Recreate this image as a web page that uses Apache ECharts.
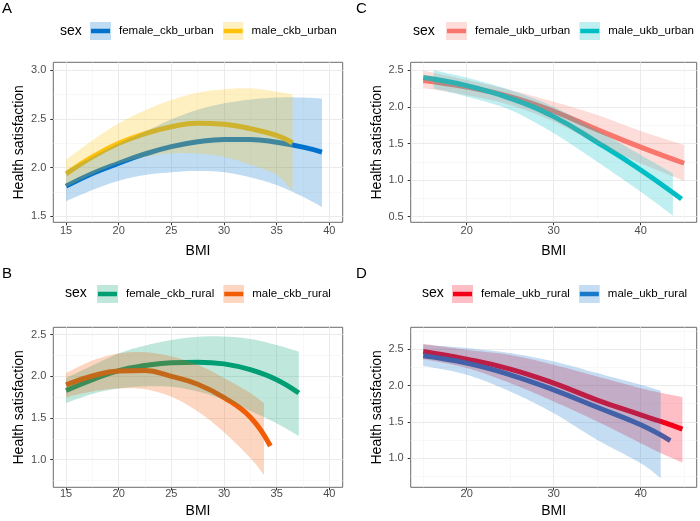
<!DOCTYPE html>
<html><head><meta charset="utf-8">
<script src="https://cdn.jsdelivr.net/npm/echarts@6/dist/echarts.min.js"></script>
<style>html,body{margin:0;padding:0;background:#fff}#c{width:700px;height:521px}</style>
</head><body><div id="c"></div>
<script>
// ---------------- DATA ----------------
// Panel A : CKB urban
const aFemaleX   = [15, 17.5, 20, 22.5, 25, 27.5, 30, 32.5, 35, 37.5, 39.3];
const aFemaleFit = [1.81, 1.94, 2.045, 2.14, 2.215, 2.265, 2.29, 2.29, 2.26, 2.21, 2.16];
const aFemaleLo  = [1.655, 1.77, 1.865, 1.925, 1.952, 1.966, 1.952, 1.90, 1.82, 1.70, 1.596];
const aFemaleHi  = [1.97, 2.11, 2.25, 2.37, 2.495, 2.595, 2.66, 2.70, 2.72, 2.72, 2.71];
const aMaleX     = [15, 17.5, 20, 22.5, 25, 27.5, 30, 32.5, 35, 36.5];
const aMaleFit   = [1.935, 2.11, 2.25, 2.35, 2.42, 2.455, 2.445, 2.40, 2.33, 2.255];
const aMaleLo    = [1.80, 1.93, 2.04, 2.11, 2.147, 2.144, 2.11, 2.03, 1.925, 1.76];
const aMaleHi    = [2.08, 2.28, 2.455, 2.59, 2.695, 2.77, 2.805, 2.815, 2.78, 2.753];

// Panel B : CKB rural
const bFemaleX   = [15, 17.5, 20, 22.5, 25, 27.5, 30, 32.5, 35, 37.1];
const bFemaleFit = [1.83, 1.96, 2.07, 2.13, 2.165, 2.17, 2.15, 2.08, 1.96, 1.80];
const bFemaleLo  = [1.68, 1.79, 1.855, 1.88, 1.875, 1.82, 1.72, 1.585, 1.436, 1.284];
const bFemaleHi  = [1.98, 2.13, 2.275, 2.37, 2.436, 2.475, 2.478, 2.45, 2.376, 2.296];
const bMaleLineX = [15, 17.5, 20, 22.5, 25, 27.5, 30, 32.5, 34.4];
const bMaleFit   = [1.90, 2.005, 2.065, 2.07, 2.00, 1.905, 1.745, 1.51, 1.165];
const bMaleRibX  = [15, 17.5, 20, 22.5, 25, 27.5, 30, 32.5, 33.8];
const bMaleLo    = [1.75, 1.82, 1.855, 1.845, 1.755, 1.58, 1.33, 1.02, 0.816];
const bMaleHi    = [2.04, 2.19, 2.275, 2.29, 2.24, 2.14, 1.98, 1.80, 1.676];

// Panel C : UKB urban
const cFemaleX   = [15, 20, 25, 30, 35, 40, 45];
const cFemaleFit = [2.36, 2.27, 2.14, 1.94, 1.69, 1.45, 1.23];
const cFemaleLo  = [2.26, 2.16, 2.026, 1.80, 1.50, 1.23, 0.987];
const cFemaleHi  = [2.495, 2.368, 2.23, 2.07, 1.89, 1.67, 1.48];
const cMaleLineX = [15, 20, 25, 30, 35, 40, 44.7];
const cMaleFit   = [2.40, 2.29, 2.117, 1.867, 1.516, 1.138, 0.74];
const cMaleRibX  = [16.2, 20, 25, 30, 35, 40, 43.7];
const cMaleLo    = [2.254, 2.14, 1.958, 1.64, 1.25, 0.84, 0.514];
const cMaleHi    = [2.50, 2.40, 2.23, 2.00, 1.68, 1.343, 1.092];

// Panel D : UKB rural
const dFemaleX   = [15, 20, 25, 30, 35, 40, 42.3, 44.8];
const dFemaleFit = [2.468, 2.362, 2.225, 2.032, 1.80, 1.596, 1.505, 1.40];
const dFemaleLo  = [2.362, 2.24, 2.032, 1.78, 1.505, 1.206, 1.07, 0.94];
const dFemaleHi  = [2.573, 2.49, 2.42, 2.284, 2.124, 1.963, 1.90, 1.84];
const dMaleLineX = [15, 20, 25, 30, 35, 40, 43.4];
const dMaleFit   = [2.408, 2.307, 2.147, 1.94, 1.70, 1.459, 1.243];
const dMaleRibX  = [15, 20, 25, 30, 35, 40, 42.3];
const dMaleLo    = [2.27, 2.147, 1.917, 1.619, 1.252, 0.931, 0.725];
const dMaleHi    = [2.56, 2.514, 2.445, 2.33, 2.17, 2.01, 1.927];

// Tick labels
const ckbXTicks = [15, 20, 25, 30, 35, 40];
const ckbXMinor = [17.5, 22.5, 27.5, 32.5, 37.5];
const ukbXTicks = [20, 30, 40];
const ukbXMinor = [15, 25, 35, 45];
const aYTicks = [1.5, 2.0, 2.5, 3.0];
const aYMinor = [1.75, 2.25, 2.75];
const bYTicks = [1.0, 1.5, 2.0, 2.5];
const bYMinor = [0.75, 1.25, 1.75, 2.25];
const cYTicks = [0.5, 1.0, 1.5, 2.0, 2.5];
const cYMinor = [0.75, 1.25, 1.75, 2.25];
const dYTicks = [1.0, 1.5, 2.0, 2.5];
const dYMinor = [0.75, 1.25, 1.75, 2.25, 2.75];

// ---------------- LAYOUT / STYLE ----------------
const FONT = '"Liberation Sans", Arial, Helvetica, sans-serif';
const panels = [
  { letter: 'A', grid: {left: 53.3, top: 62.3, width: 289.4, height: 160}, xr: [13.79, 41.27], yr: [1.438, 3.082],
    xTicks: ckbXTicks, xMinor: ckbXMinor, yTicks: aYTicks, yMinor: aYMinor,
    letterPos: [2, 1], sexPos: [60, 24], legendPos: [90, 22], xNameGap: 22, xLabelMargin: 3,
    groups: [
      {name: 'female_ckb_urban', color: '#0072CE', lx: aFemaleX, fit: aFemaleFit, rx: aFemaleX, lo: aFemaleLo, hi: aFemaleHi},
      {name: 'male_ckb_urban', color: '#FFC20A', lx: aMaleX, fit: aMaleFit, rx: aMaleX, lo: aMaleLo, hi: aMaleHi}
    ]},
  { letter: 'B', grid: {left: 53.3, top: 327.3, width: 289.4, height: 160}, xr: [13.79, 41.27], yr: [0.669, 2.589],
    xTicks: ckbXTicks, xMinor: ckbXMinor, yTicks: bYTicks, yMinor: bYMinor,
    letterPos: [2, 266], sexPos: [65, 286], legendPos: [97, 285], xNameGap: 17, xLabelMargin: 1,
    groups: [
      {name: 'female_ckb_rural', color: '#009E73', lx: bFemaleX, fit: bFemaleFit, rx: bFemaleX, lo: bFemaleLo, hi: bFemaleHi},
      {name: 'male_ckb_rural', color: '#F25C05', lx: bMaleLineX, fit: bMaleFit, rx: bMaleRibX, lo: bMaleLo, hi: bMaleHi}
    ]},
  { letter: 'C', grid: {left: 410.7, top: 62.3, width: 286, height: 160}, xr: [13.56, 46.44], yr: [0.423, 2.609],
    xTicks: ukbXTicks, xMinor: ukbXMinor, yTicks: cYTicks, yMinor: cYMinor,
    letterPos: [356, 1], sexPos: [413, 24], legendPos: [446, 22], xNameGap: 22, xLabelMargin: 3,
    groups: [
      {name: 'female_ukb_urban', color: '#F8766D', lx: cFemaleX, fit: cFemaleFit, rx: cFemaleX, lo: cFemaleLo, hi: cFemaleHi},
      {name: 'male_ukb_urban', color: '#00BFC4', lx: cMaleLineX, fit: cMaleFit, rx: cMaleRibX, lo: cMaleLo, hi: cMaleHi}
    ]},
  { letter: 'D', grid: {left: 410.7, top: 327.3, width: 286, height: 160}, xr: [13.56, 46.44], yr: [0.60, 2.80],
    xTicks: ukbXTicks, xMinor: ukbXMinor, yTicks: dYTicks, yMinor: dYMinor,
    letterPos: [356, 266], sexPos: [422, 286], legendPos: [452, 285], xNameGap: 17, xLabelMargin: 1,
    groups: [
      {name: 'female_ukb_rural', color: '#F60018', lx: dFemaleX, fit: dFemaleFit, rx: dFemaleX, lo: dFemaleLo, hi: dFemaleHi},
      {name: 'male_ukb_rural', color: '#1878CA', lx: dMaleLineX, fit: dMaleFit, rx: dMaleRibX, lo: dMaleLo, hi: dMaleHi}
    ]}
];

const ALPHA = 0.25;
function rgba(hex, a) {
  const n = parseInt(hex.slice(1), 16);
  return 'rgba(' + ((n >> 16) & 255) + ',' + ((n >> 8) & 255) + ',' + (n & 255) + ',' + a + ')';
}
function legendIcon(color) {
  const svg = "<svg xmlns='http://www.w3.org/2000/svg' width='42' height='36' viewBox='0 0 42 36'>" +
    "<rect x='0' y='0' width='42' height='36' fill='" + rgba(color, ALPHA) + "'/>" +
    "<rect x='2' y='13.5' width='38' height='9' fill='" + color + "'/></svg>";
  return 'image://data:image/svg+xml;charset=utf-8,' + encodeURIComponent(svg);
}
// Catmull-Rom sampling of pixel points (rendering only)
function spline(pts, steps) {
  const out = [];
  const n = pts.length;
  for (let i = 0; i < n - 1; i++) {
    const p0 = pts[Math.max(i - 1, 0)], p1 = pts[i], p2 = pts[i + 1], p3 = pts[Math.min(i + 2, n - 1)];
    for (let s = 0; s < steps; s++) {
      const t = s / steps, t2 = t * t, t3 = t2 * t;
      const f = k => 0.5 * (2 * p1[k] + (-p0[k] + p2[k]) * t + (2 * p0[k] - 5 * p1[k] + 4 * p2[k] - p3[k]) * t2 + (-p0[k] + 3 * p1[k] - 3 * p2[k] + p3[k]) * t3);
      out.push([f(0), f(1)]);
    }
  }
  out.push(pts[n - 1]);
  return out;
}

const grids = [], xAxes = [], yAxes = [], series = [], titles = [], legends = [];
panels.forEach((p, i) => {
  grids.push(Object.assign({show: true, borderColor: '#6b6b6b', borderWidth: 1, backgroundColor: 'rgba(0,0,0,0)', containLabel: false, outerBoundsMode: 'none'}, p.grid));
  xAxes.push({
    type: 'value', gridIndex: i, min: p.xr[0], max: p.xr[1],
    axisLine: {show: false, onZero: false}, splitLine: {show: false},
    axisTick: {show: true, length: 3, customValues: p.xTicks, lineStyle: {color: '#333', width: 1}},
    axisLabel: {customValues: p.xTicks, margin: p.xLabelMargin, color: '#4D4D4D', fontSize: 11, fontFamily: FONT},
    name: 'BMI', nameLocation: 'middle', nameGap: p.xNameGap,
    nameTextStyle: {fontSize: 14, color: '#000', fontFamily: FONT}
  });
  yAxes.push({
    type: 'value', gridIndex: i, min: p.yr[0], max: p.yr[1],
    axisLine: {show: false, onZero: false}, splitLine: {show: false},
    axisTick: {show: true, length: 3, customValues: p.yTicks, lineStyle: {color: '#333', width: 1}},
    axisLabel: {customValues: p.yTicks, margin: 7, color: '#4D4D4D', fontSize: 11, fontFamily: FONT, formatter: v => v.toFixed(1)},
    name: 'Health satisfaction', nameLocation: 'middle', nameGap: 27,
    nameTextStyle: {fontSize: 14, color: '#000', fontFamily: FONT}
  });
  // grid lines through the axes' scales
  const gl = [];
  p.xMinor.forEach(v => gl.push({xAxis: v, lineStyle: {color: '#F4F4F4', width: 0.6, type: 'solid'}}));
  p.yMinor.forEach(v => gl.push({yAxis: v, lineStyle: {color: '#F4F4F4', width: 0.6, type: 'solid'}}));
  p.xTicks.forEach(v => gl.push({xAxis: v, lineStyle: {color: '#EBEBEB', width: 1, type: 'solid'}}));
  p.yTicks.forEach(v => gl.push({yAxis: v, lineStyle: {color: '#EBEBEB', width: 1, type: 'solid'}}));
  series.push({
    type: 'line', xAxisIndex: i, yAxisIndex: i, data: [[p.xr[0], p.yr[0]]], symbol: 'none', showSymbol: false,
    lineStyle: {opacity: 0}, silent: true, z: 1, animation: false,
    markLine: {silent: true, z: 1, animation: false, symbol: ['none', 'none'], label: {show: false}, emphasis: {disabled: true}, data: gl}
  });
  // fitted lines (under ribbons)
  p.groups.forEach(g => {
    series.push({
      type: 'line', name: g.name, xAxisIndex: i, yAxisIndex: i,
      data: g.lx.map((x, k) => [x, g.fit[k]]),
      smooth: 0.45, symbol: 'none', showSymbol: false, silent: true, animation: false, z: 2,
      lineStyle: {color: g.color, width: 5, cap: 'butt'}, itemStyle: {color: g.color}
    });
  });
  // confidence ribbons (on top, translucent)
  p.groups.forEach(g => {
    const rows = g.rx.map((x, k) => [x, g.lo[k], g.hi[k]]);
    series.push({
      type: 'custom', name: g.name, xAxisIndex: i, yAxisIndex: i, data: rows,
      encode: {x: 0, y: [1, 2]}, silent: true, animation: false, z: 3, itemStyle: {color: g.color},
      renderItem: (params, api) => {
        if (params.dataIndex !== 0) return null;
        const up = rows.map(r => api.coord([r[0], r[2]]));
        const dn = rows.map(r => api.coord([r[0], r[1]])).reverse();
        const pts = spline(up, 16).concat(spline(dn, 16));
        return {type: 'polygon', shape: {points: pts}, style: {fill: rgba(g.color, ALPHA), stroke: null}};
      }
    });
  });
  titles.push({text: p.letter, left: p.letterPos[0], top: p.letterPos[1], padding: 0,
    textStyle: {fontSize: 15, fontWeight: 'normal', color: '#000', fontFamily: FONT}});
  titles.push({text: 'sex', left: p.sexPos[0], top: p.sexPos[1], padding: 0,
    textStyle: {fontSize: 14, fontWeight: 'normal', color: '#000', fontFamily: FONT}});
  legends.push({
    left: p.legendPos[0], top: p.legendPos[1], orient: 'horizontal', padding: 0,
    itemWidth: 21, itemHeight: 18, itemGap: 9, selectedMode: false,
    textStyle: {fontSize: 11.5, color: '#000', fontFamily: FONT, padding: [0, 0, 0, 3]},
    data: p.groups.map(g => ({name: g.name, icon: legendIcon(g.color)}))
  });
});

const chart = echarts.init(document.getElementById('c'), null, {renderer: 'canvas'});
chart.setOption({
  animation: false,
  backgroundColor: '#fff',
  textStyle: {fontFamily: FONT},
  title: titles,
  legend: legends,
  grid: grids,
  xAxis: xAxes,
  yAxis: yAxes,
  series: series
});
</script>
</body></html>
